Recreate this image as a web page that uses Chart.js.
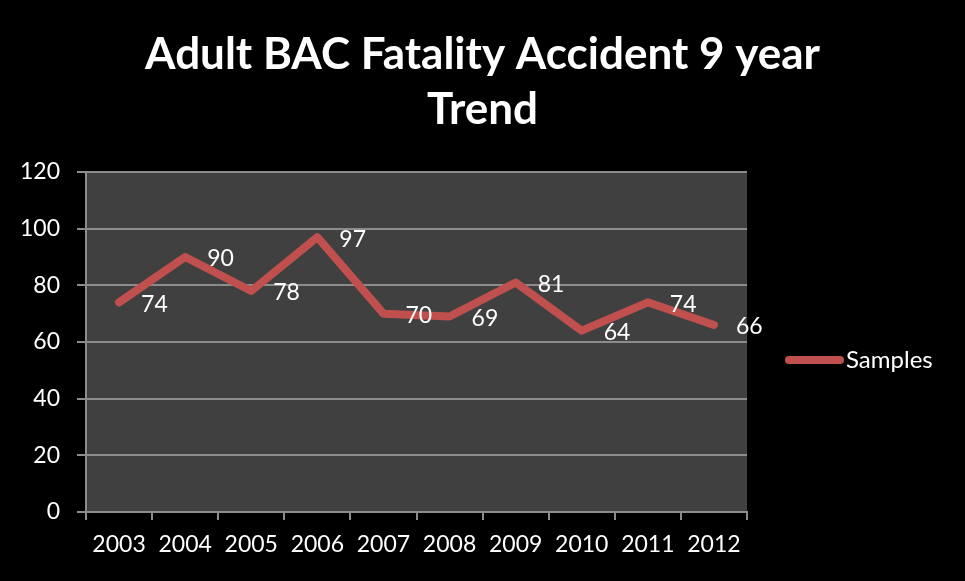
<!DOCTYPE html>
<html>
<head>
<meta charset="utf-8">
<script src="https://cdn.jsdelivr.net/npm/chart.js@4"></script>
<style>
  html, body { margin: 0; padding: 0; background: #000; }
  #wrap { width: 965px; height: 581px; }
</style>
</head>
<body>
<div id="wrap"><canvas id="grafico" width="965" height="581"></canvas></div>
<script>
// DADOS
const anos = ['2003', '2004', '2005', '2006', '2007', '2008', '2009', '2010', '2011', '2012'];
const amostras = [74, 90, 78, 97, 70, 69, 81, 64, 74, 66];
const serieNome = 'Samples';
const titulo = ['Adult BAC Fatality Accident 9 year', 'Trend'];

const VERMELHO = '#c0504d';
const FONTE = 'Lato, "Open Sans", sans-serif';

// fundo da área do gráfico
const fundoPlot = {
  id: 'fundoPlot',
  beforeDraw(chart) {
    const { ctx, chartArea: a } = chart;
    ctx.save();
    ctx.fillStyle = '#404040';
    ctx.fillRect(a.left, a.top, a.right - a.left, a.bottom - a.top);
    ctx.restore();
  }
};

// título centrado na imagem inteira
const tituloPlugin = {
  id: 'tituloPlugin',
  afterDraw(chart) {
    const { ctx } = chart;
    ctx.save();
    ctx.fillStyle = '#ffffff';
    ctx.font = `bold 44px ${FONTE}`;
    ctx.textAlign = 'center';
    ctx.textBaseline = 'middle';
    titulo.forEach((linha, i) => {
      ctx.fillText(linha, chart.width / 2, 55 + i * 55);
    });
    ctx.restore();
  }
};

// rótulos de valor + legenda
const rotulos = {
  id: 'rotulos',
  afterDatasetsDraw(chart) {
    const { ctx } = chart;
    const meta = chart.getDatasetMeta(0);
    const valores = chart.data.datasets[0].data;
    ctx.save();
    ctx.fillStyle = '#ffffff';
    ctx.font = `23px ${FONTE}`;
    ctx.textAlign = 'left';
    ctx.textBaseline = 'middle';
    meta.data.forEach((p, i) => {
      ctx.fillText(valores[i], p.x + 22, p.y + 2);
    });

    // LEGENDA
    const ly = 360;
    ctx.strokeStyle = VERMELHO;
    ctx.lineWidth = 8;
    ctx.lineCap = 'round';
    ctx.beginPath();
    ctx.moveTo(789, ly);
    ctx.lineTo(840, ly);
    ctx.stroke();
    ctx.font = `24px ${FONTE}`;
    ctx.fillText(chart.data.datasets[0].label, 846, ly);
    ctx.restore();
  }
};

new Chart(document.getElementById('grafico').getContext('2d'), {
  type: 'line',
  data: {
    labels: anos,
    datasets: [
      {
        label: serieNome,
        data: amostras,
        borderColor: VERMELHO,
        backgroundColor: VERMELHO,
        borderWidth: 8,
        borderCapStyle: 'round',
        borderJoinStyle: 'round',
        pointRadius: 0,
        tension: 0
      }
    ]
  },
  options: {
    responsive: false,
    animation: false,
    layout: {
      padding: { left: 0, right: 218, top: 172, bottom: 0 }
    },
    plugins: {
      legend: { display: false },
      tooltip: { enabled: false },
      title: { display: false }
    },
    scales: {
      y: {
        min: 0,
        max: 120,
        ticks: {
          stepSize: 20,
          color: '#ffffff',
          font: { family: FONTE, size: 23 },
          padding: 17
        },
        grid: {
          color: '#8c8c8c',
          lineWidth: 2,
          tickLength: 9,
          drawTicks: true
        },
        border: { color: '#8c8c8c', width: 2 },
        afterFit(scale) { scale.width = 86; }
      },
      x: {
        offset: true,
        ticks: {
          color: '#ffffff',
          font: { family: FONTE, size: 23 },
          padding: 11,
          maxRotation: 0,
          autoSkip: false
        },
        grid: {
          offset: true,
          drawOnChartArea: false,
          drawTicks: true,
          tickLength: 8,
          color: '#8c8c8c',
          lineWidth: 2
        },
        border: { color: '#8c8c8c', width: 2 },
        afterFit(scale) { scale.height = 69; }
      }
    }
  },
  plugins: [fundoPlot, tituloPlugin, rotulos]
});
</script>
</body>
</html>
